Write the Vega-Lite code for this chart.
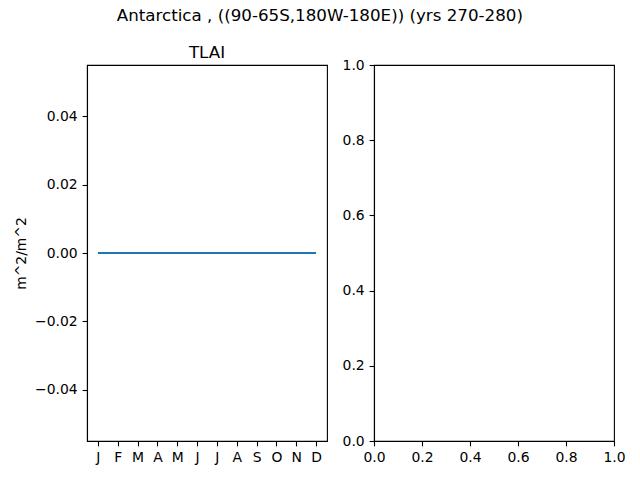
{
  "$schema": "https://vega.github.io/schema/vega-lite/v6.json",
  "padding": {"left": 14, "top": 8, "right": 0, "bottom": 0},
  "bounds": "flush",
  "spacing": 47,
  "title": {
    "text": "Antarctica , ((90-65S,180W-180E)) (yrs 270-280)",
    "fontSize": 16.7,
    "fontWeight": "normal",
    "font": "DejaVu Sans",
    "color": "black",
    "anchor": "middle",
    "offset": 20
  },
  "config": {
    "view": {"stroke": "black", "strokeWidth": 1.1},
    "axis": {
      "grid": false,
      "domainColor": "black",
      "domainWidth": 1.1,
      "tickColor": "black",
      "tickWidth": 1.1,
      "tickSize": 4.9,
      "labelPadding": 4.9,
      "labelFont": "DejaVu Sans",
      "labelFontSize": 13.9,
      "labelColor": "black",
      "labelFlush": false,
      "labelOverlap": false,
      "titleFont": "DejaVu Sans",
      "titleFontSize": 13.9,
      "titleFontWeight": "normal",
      "titleColor": "black"
    }
  },
  "hconcat": [
    {
      "width": 240,
      "height": 376,
      "title": {
        "text": "TLAI",
        "fontSize": 16.7,
        "fontWeight": "normal",
        "font": "DejaVu Sans",
        "color": "black",
        "offset": 3
      },
      "data": {
        "values": [
          {"month": 0, "tlai": 0}, {"month": 1, "tlai": 0}, {"month": 2, "tlai": 0},
          {"month": 3, "tlai": 0}, {"month": 4, "tlai": 0}, {"month": 5, "tlai": 0},
          {"month": 6, "tlai": 0}, {"month": 7, "tlai": 0}, {"month": 8, "tlai": 0},
          {"month": 9, "tlai": 0}, {"month": 10, "tlai": 0}, {"month": 11, "tlai": 0}
        ]
      },
      "mark": {"type": "line", "color": "#1f77b4", "strokeWidth": 2.1},
      "encoding": {
        "x": {
          "field": "month",
          "type": "quantitative",
          "scale": {"domain": [-0.55, 11.55], "nice": false, "zero": false},
          "axis": {
            "title": null,
            "values": [0, 1, 2, 3, 4, 5, 6, 7, 8, 9, 10, 11],
            "labelExpr": "['J','F','M','A','M','J','J','A','S','O','N','D'][datum.value]"
          }
        },
        "y": {
          "field": "tlai",
          "type": "quantitative",
          "scale": {"domain": [-0.055, 0.055], "nice": false, "zero": false},
          "axis": {
            "title": "m^2/m^2",
            "titlePadding": 6,
            "values": [-0.04, -0.02, 0, 0.02, 0.04],
            "format": ".2f"
          }
        }
      }
    },
    {
      "width": 240,
      "height": 376,
      "data": {"values": []},
      "mark": {"type": "point", "opacity": 0},
      "encoding": {
        "x": {
          "field": "x",
          "type": "quantitative",
          "scale": {"domain": [0, 1], "nice": false},
          "axis": {"title": null, "values": [0, 0.2, 0.4, 0.6, 0.8, 1], "format": ".1f"}
        },
        "y": {
          "field": "y",
          "type": "quantitative",
          "scale": {"domain": [0, 1], "nice": false},
          "axis": {"title": null, "values": [0, 0.2, 0.4, 0.6, 0.8, 1], "format": ".1f"}
        }
      }
    }
  ]
}
